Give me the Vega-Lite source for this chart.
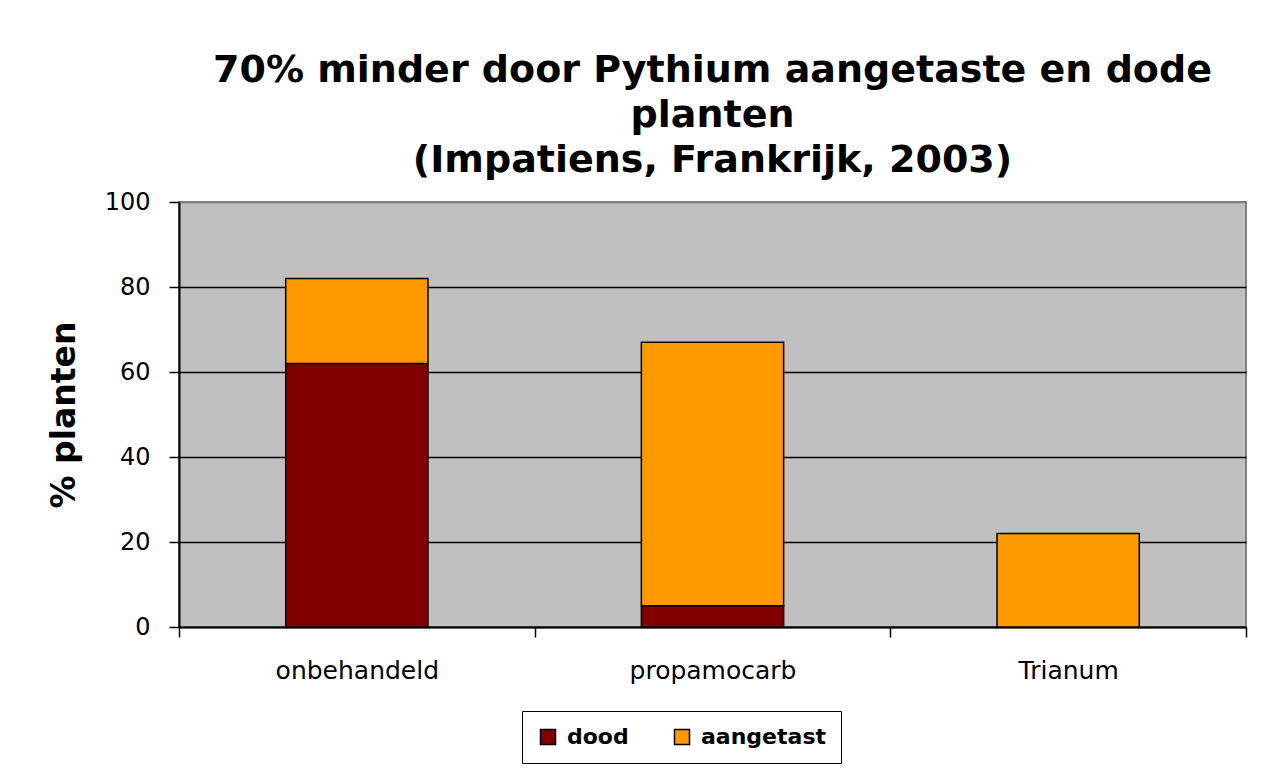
{
  "$schema": "https://vega.github.io/schema/vega-lite/v6.json",
  "autosize": "none",
  "width": 1067,
  "height": 425,
  "padding": {"left": 179, "top": 202, "right": 22, "bottom": 142},
  "background": "white",
  "title": {
    "text": ["70% minder door Pythium aangetaste en dode", "planten", "(Impatiens, Frankrijk, 2003)"],
    "font": "DejaVu Sans",
    "fontSize": 38,
    "fontWeight": "bold",
    "color": "black",
    "lineHeight": 45,
    "anchor": "middle",
    "frame": "group",
    "offset": 10
  },
  "data": {
    "values": [
      {"behandeling": "onbehandeld", "type": "dood", "waarde": 62, "volgorde": 1},
      {"behandeling": "onbehandeld", "type": "aangetast", "waarde": 20, "volgorde": 2},
      {"behandeling": "propamocarb", "type": "dood", "waarde": 5, "volgorde": 1},
      {"behandeling": "propamocarb", "type": "aangetast", "waarde": 62, "volgorde": 2},
      {"behandeling": "Trianum", "type": "dood", "waarde": 0, "volgorde": 1},
      {"behandeling": "Trianum", "type": "aangetast", "waarde": 22, "volgorde": 2}
    ]
  },
  "mark": {"type": "bar", "stroke": "black", "strokeWidth": 1.5, "width": {"band": 0.4}},
  "encoding": {
    "x": {
      "field": "behandeling",
      "type": "nominal",
      "sort": ["onbehandeld", "propamocarb", "Trianum"],
      "scale": {"paddingInner": 0, "paddingOuter": 0},
      "axis": {
        "title": null,
        "labelAngle": 0,
        "labelFont": "DejaVu Sans",
        "labelFontSize": 25,
        "labelColor": "black",
        "labelPadding": 21,
        "tickBand": "extent",
        "tickSize": 10,
        "tickColor": "black",
        "tickWidth": 1.5,
        "domainColor": "black",
        "domainWidth": 2,
        "grid": false
      }
    },
    "y": {
      "field": "waarde",
      "type": "quantitative",
      "stack": "zero",
      "scale": {"domain": [0, 100], "nice": false},
      "axis": {
        "title": "% planten",
        "titleFont": "DejaVu Sans",
        "titleFontSize": 33,
        "titleFontWeight": "bold",
        "titleColor": "black",
        "titlePadding": 23,
        "values": [0, 20, 40, 60, 80, 100],
        "labelFont": "DejaVu Sans",
        "labelFontSize": 24,
        "labelColor": "black",
        "labelPadding": 19,
        "tickSize": 10,
        "tickColor": "black",
        "tickWidth": 1.5,
        "domainColor": "black",
        "domainWidth": 2,
        "grid": true,
        "gridColor": {"condition": {"test": "datum.value == 100", "value": "#808080"}, "value": "black"},
        "gridWidth": 1.5,
        "gridOpacity": 1
      }
    },
    "color": {
      "field": "type",
      "type": "nominal",
      "scale": {"domain": ["dood", "aangetast"], "range": ["#800000", "#FF9900"]},
      "legend": {
        "title": null,
        "orient": "none",
        "direction": "horizontal",
        "legendX": 343,
        "legendY": 509,
        "padding": 15,
        "strokeColor": "black",
        "fillColor": "white",
        "symbolType": "square",
        "symbolSize": 225,
        "symbolStrokeColor": "black",
        "symbolStrokeWidth": 1.5,
        "symbolOpacity": 1,
        "labelFont": "DejaVu Sans",
        "labelFontSize": 22,
        "labelFontWeight": "bold",
        "labelColor": "black",
        "labelOffset": 8,
        "columnPadding": 42
      }
    },
    "order": {"field": "volgorde", "type": "quantitative", "sort": "ascending"}
  },
  "config": {
    "view": {"fill": "#C0C0C0", "stroke": "#808080", "strokeWidth": 2}
  }
}
